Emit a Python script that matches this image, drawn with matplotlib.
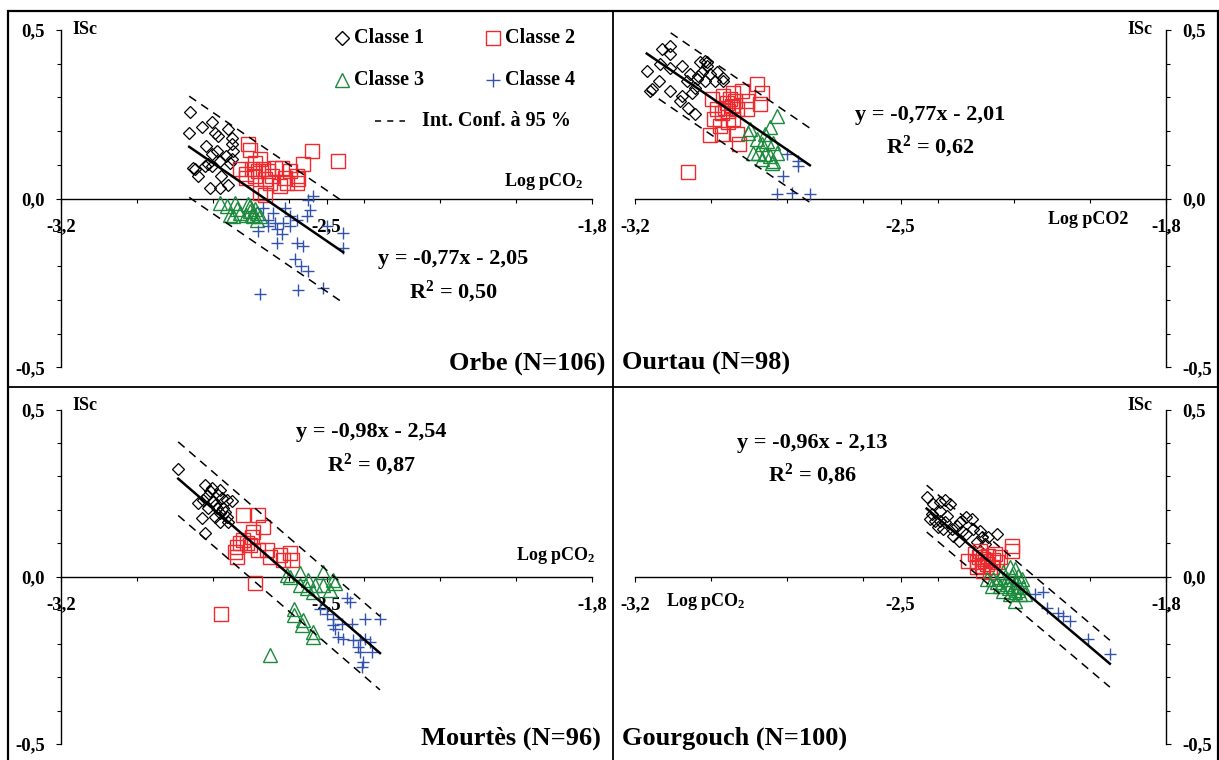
import numpy as np
import matplotlib
matplotlib.use("Agg")
import matplotlib.pyplot as plt
from matplotlib.ticker import FixedLocator, FixedFormatter, NullFormatter

plt.rcParams['font.family'] = ['Liberation Serif', 'DejaVu Serif']
plt.rcParams['font.weight'] = 'bold'
plt.rcParams['mathtext.fontset'] = 'custom'
plt.rcParams['mathtext.rm'] = 'Liberation Serif:bold'
plt.rcParams['mathtext.it'] = 'Liberation Serif:bold'
plt.rcParams['mathtext.bf'] = 'Liberation Serif:bold'

# ---------------- data ----------------
panel_titles = ["Orbe (N=106)", "Ourtau (N=98)", "Mourtès (N=96)", "Gourgouch (N=100)"]
equations = ["y = -0,77x - 2,05", "y = -0,77x - 2,01", "y = -0,98x - 2,54", "y = -0,96x - 2,13"]
r2_values = ["0,50", "0,62", "0,87", "0,86"]
slopes = [-0.77, -0.77, -0.98, -0.96]
intercepts = [-2.05, -2.01, -2.54, -2.13]
ci_half_width = [0.15, 0.11, 0.11, 0.07]
x_axis_labels = ["Log pCO$_2$", "Log pCO2", "Log pCO$_2$", "Log pCO$_2$"]
y_axis_label = "ISc"

class_labels = ["Classe 1", "Classe 2", "Classe 3", "Classe 4"]
ci_label = "Int. Conf. à 95 %"

xtick_pos = [-3.2, -2.5, -1.8]
xtick_labels = ["-3,2", "-2,5", "-1,8"]
xtick_minor = [-3.0, -2.8, -2.6, -2.4, -2.2, -2.0]
ytick_pos = [-0.5, 0.0, 0.5]
ytick_labels = ["-0,5", "0,0", "0,5"]
ytick_minor = [-0.4, -0.3, -0.2, -0.1, 0.1, 0.2, 0.3, 0.4]

# Orbe
orbe_c1_x = [-2.860, -2.862, -2.829, -2.803, -2.794, -2.785, -2.759, -2.750, -2.750, -2.790, -2.803, -2.812, -2.820,
             -2.803, -2.781, -2.777, -2.750, -2.851, -2.838, -2.807, -2.781, -2.759, -2.746, -2.847, -2.755, -2.817, -2.765]
orbe_c1_y = [0.258, 0.196, 0.211, 0.226, 0.196, 0.186, 0.206, 0.181, 0.161, 0.142, 0.132, 0.102, 0.097,
             0.097, 0.112, 0.067, 0.117, 0.092, 0.067, 0.033, 0.033, 0.040, 0.142, 0.087, 0.107, 0.156, 0.125]
orbe_c2_x = [-2.706, -2.702, -2.728, -2.711, -2.697, -2.689, -2.667, -2.653, -2.645, -2.662, -2.636, -2.618, -2.609,
             -2.605, -2.579, -2.574, -2.561, -2.539, -2.469, -2.675, -2.662, -2.711, -2.649, -2.623, -2.680, -2.579,
             -2.675, -2.596, -2.689]
orbe_c2_y = [0.161, 0.144, 0.087, 0.072, 0.087, 0.067, 0.087, 0.082, 0.067, 0.057, 0.092, 0.092, 0.062,
             0.047, 0.067, 0.057, 0.102, 0.142, 0.112, 0.017, 0.012, 0.062, 0.047, 0.037, 0.082, 0.047,
             0.117, 0.082, 0.107]
orbe_c3_x = [-2.781, -2.763, -2.741, -2.754, -2.737, -2.706, -2.702, -2.697, -2.693, -2.684, -2.684, -2.711, -2.675,
             -2.702, -2.728, -2.746, -2.689]
orbe_c3_y = [-0.012, -0.022, -0.012, -0.047, -0.032, -0.017, -0.037, -0.047, -0.052, -0.042, -0.062, -0.047, -0.052,
             -0.022, -0.042, -0.052, -0.030]
orbe_c4_x = [-2.667, -2.640, -2.609, -2.596, -2.579, -2.548, -2.535, -2.544, -2.636, -2.653, -2.631, -2.618, -2.631,
             -2.680, -2.579, -2.561, -2.596, -2.583, -2.566, -2.548, -2.574, -2.508, -2.675, -2.456, -2.456, -2.653,
             -2.552, -2.614, -2.500]
orbe_c4_y = [-0.027, -0.042, -0.027, -0.052, -0.062, -0.003, 0.007, -0.033, -0.072, -0.081, -0.091, -0.106, -0.131,
             -0.096, -0.131, -0.141, -0.081, -0.180, -0.200, -0.215, -0.270, -0.264, -0.284, -0.101, -0.146, -0.062,
             -0.052, -0.072, -0.081]

# Ourtau
ourtau_c1_x = [-3.169, -3.130, -3.108, -3.108, -3.134, -3.108, -3.077, -3.055, -3.138, -3.156, -3.108, -3.077, -3.081,
               -3.059, -3.042, -3.029, -3.015, -3.011, -3.024, -3.002, -2.985, -2.967, -2.967, -3.037, -3.015, -3.042,
               -3.051, -3.064, -3.011, -2.989, -3.033, -3.160]
ourtau_c1_y = [0.379, 0.443, 0.453, 0.428, 0.399, 0.386, 0.394, 0.369, 0.349, 0.324, 0.319, 0.305, 0.290,
               0.270, 0.250, 0.404, 0.408, 0.394, 0.374, 0.369, 0.374, 0.359, 0.349, 0.354, 0.349, 0.329,
               0.314, 0.349, 0.404, 0.349, 0.364, 0.319]
ourtau_c2_x = [-2.998, -2.985, -2.993, -3.002, -2.971, -2.967, -2.958, -2.949, -2.945, -2.932, -2.936, -2.941, -2.919,
               -2.906, -2.879, -2.866, -2.870, -2.954, -2.941, -2.971, -2.932, -2.927, -3.059, -2.954, -2.963, -2.906,
               -2.976]
ourtau_c2_y = [0.295, 0.265, 0.235, 0.188, 0.191, 0.305, 0.285, 0.295, 0.275, 0.265, 0.290, 0.314, 0.319,
               0.265, 0.339, 0.314, 0.280, 0.226, 0.235, 0.255, 0.191, 0.161, 0.080, 0.260, 0.270, 0.290,
               0.216]
ourtau_c3_x = [-2.826, -2.844, -2.857, -2.897, -2.901, -2.879, -2.866, -2.853, -2.835, -2.888, -2.875, -2.857, -2.844,
               -2.826, -2.835, -2.839, -2.866]
ourtau_c3_y = [0.245, 0.211, 0.191, 0.206, 0.196, 0.176, 0.161, 0.171, 0.166, 0.136, 0.136, 0.131, 0.127,
               0.136, 0.112, 0.107, 0.117]
ourtau_c4_x = [-2.800, -2.769, -2.769, -2.809, -2.826, -2.787, -2.739]
ourtau_c4_y = [0.131, 0.112, 0.097, 0.067, 0.013, 0.018, 0.013]

# Mourtes
mourtes_c1_x = [-2.891, -2.820, -2.803, -2.781, -2.785, -2.816, -2.838, -2.825, -2.798, -2.776, -2.763, -2.750, -2.790,
                -2.772, -2.781, -2.763, -2.794, -2.781, -2.759, -2.829, -2.820, -2.807, -2.794, -2.768, -2.812]
mourtes_c1_y = [0.322, 0.275, 0.265, 0.260, 0.245, 0.240, 0.220, 0.230, 0.225, 0.235, 0.230, 0.225, 0.205,
                0.205, 0.190, 0.180, 0.180, 0.165, 0.165, 0.175, 0.130, 0.255, 0.215, 0.195, 0.205]
mourtes_c2_x = [-2.719, -2.680, -2.667, -2.693, -2.697, -2.728, -2.737, -2.710, -2.719, -2.741, -2.737, -2.702, -2.680,
                -2.658, -2.649, -2.623, -2.614, -2.596, -2.592, -2.688, -2.779]
mourtes_c2_y = [0.185, 0.185, 0.150, 0.135, 0.120, 0.100, 0.090, 0.100, 0.110, 0.075, 0.060, 0.095, 0.080,
                0.080, 0.060, 0.065, 0.050, 0.070, 0.050, -0.020, -0.110]
mourtes_c3_x = [-2.596, -2.570, -2.548, -2.570, -2.552, -2.535, -2.508, -2.482, -2.478, -2.491, -2.508, -2.530, -2.587,
                -2.587, -2.561, -2.565, -2.535, -2.535, -2.649, -2.605]
mourtes_c3_y = [0.000, 0.010, -0.010, -0.025, -0.035, -0.045, 0.015, -0.010, -0.020, -0.040, -0.025, -0.025, -0.095,
                -0.115, -0.130, -0.145, -0.165, -0.180, -0.234, 0.005]
mourtes_c4_x = [-2.517, -2.500, -2.482, -2.482, -2.447, -2.438, -2.460, -2.434, -2.398, -2.359, -2.469, -2.456, -2.429,
                -2.412, -2.398, -2.385, -2.416, -2.412, -2.381, -2.403, -2.407, -2.478]
mourtes_c4_y = [-0.095, -0.110, -0.125, -0.145, -0.065, -0.075, -0.140, -0.140, -0.125, -0.125, -0.180, -0.185, -0.190,
                -0.190, -0.185, -0.195, -0.210, -0.224, -0.224, -0.254, -0.269, -0.155]

# Gourgouch
gourg_c1_x = [-2.431, -2.413, -2.396, -2.383, -2.369, -2.396, -2.418, -2.422, -2.409, -2.396, -2.383, -2.400, -2.387,
              -2.365, -2.352, -2.343, -2.326, -2.312, -2.339, -2.326, -2.308, -2.290, -2.286, -2.268, -2.246, -2.299,
              -2.277, -2.347, -2.361, -2.378]
gourg_c1_y = [0.238, 0.218, 0.223, 0.228, 0.218, 0.198, 0.188, 0.173, 0.168, 0.168, 0.163, 0.148, 0.143,
              0.143, 0.153, 0.163, 0.178, 0.173, 0.138, 0.128, 0.143, 0.138, 0.118, 0.118, 0.128, 0.103,
              0.098, 0.108, 0.123, 0.183]
gourg_c2_x = [-2.321, -2.304, -2.299, -2.290, -2.286, -2.282, -2.273, -2.268, -2.260, -2.251, -2.246, -2.238, -2.207,
              -2.207, -2.282, -2.264, -2.299, -2.292, -2.277, -2.255]
gourg_c2_y = [0.048, 0.068, 0.043, 0.078, 0.033, 0.053, 0.038, 0.063, 0.028, 0.068, 0.043, 0.058, 0.093,
              0.078, 0.018, 0.013, 0.028, 0.058, 0.048, 0.050]
gourg_c3_x = [-2.273, -2.260, -2.246, -2.238, -2.229, -2.220, -2.211, -2.198, -2.189, -2.180, -2.176, -2.202, -2.229,
              -2.211, -2.198, -2.185, -2.172, -2.198, -2.220, -2.194, -2.238, -2.255, -2.207, -2.215, -2.190]
gourg_c3_y = [-0.007, -0.027, -0.017, -0.002, 0.013, -0.007, 0.028, 0.023, 0.003, -0.007, -0.032, -0.027, -0.042,
              -0.052, -0.047, -0.052, -0.052, -0.072, -0.022, -0.017, -0.027, -0.007, 0.003, -0.035, -0.040]
gourg_c4_x = [-2.145, -2.123, -2.115, -2.084, -2.071, -2.053, -2.005, -1.948]
gourg_c4_y = [-0.052, -0.047, -0.092, -0.107, -0.117, -0.132, -0.187, -0.232]

panels_data = [
    [(orbe_c1_x, orbe_c1_y), (orbe_c2_x, orbe_c2_y), (orbe_c3_x, orbe_c3_y), (orbe_c4_x, orbe_c4_y)],
    [(ourtau_c1_x, ourtau_c1_y), (ourtau_c2_x, ourtau_c2_y), (ourtau_c3_x, ourtau_c3_y), (ourtau_c4_x, ourtau_c4_y)],
    [(mourtes_c1_x, mourtes_c1_y), (mourtes_c2_x, mourtes_c2_y), (mourtes_c3_x, mourtes_c3_y), (mourtes_c4_x, mourtes_c4_y)],
    [(gourg_c1_x, gourg_c1_y), (gourg_c2_x, gourg_c2_y), (gourg_c3_x, gourg_c3_y), (gourg_c4_x, gourg_c4_y)],
]

# ---------------- style ----------------
W, H = 1219, 760
class_markers = ['D', 's', '^', '+']
class_colors = ['black', '#ee2a2e', '#1c8a3c', '#3252ac']
class_sizes = [6.2, 9.5, 9.5, 9.0]
class_mew = [0.9, 1.0, 1.0, 1.0]

fig = plt.figure(figsize=(W / 100, H / 100), dpi=100)

ov = fig.add_axes([0, 0, 1, 1])
ov.set_xlim(0, W)
ov.set_ylim(H, 0)
ov.axis('off')
ov.patch.set_visible(False)


def rect(xl, xr, yt, yb):
    return [xl / W, 1 - yb / H, (xr - xl) / W, (yb - yt) / H]


panel_rects = [rect(61, 592, 30, 367.3), rect(635, 1166, 30, 367.3),
               rect(61, 592, 409.5, 744), rect(635, 1166, 409.5, 744)]
right_axis = [False, True, False, True]

for i in range(4):
    ax = fig.add_axes(panel_rects[i])
    ax.patch.set_visible(False)
    ax.set_xlim(-3.2, -1.8)
    ax.set_ylim(-0.5, 0.5)
    ax.spines['top'].set_visible(False)
    ax.spines['bottom'].set_position(('data', 0))
    if right_axis[i]:
        ax.spines['left'].set_visible(False)
        ax.yaxis.set_ticks_position('right')
    else:
        ax.spines['right'].set_visible(False)
        ax.yaxis.set_ticks_position('left')
    for s in ax.spines.values():
        s.set_linewidth(1.0)
    ax.xaxis.set_major_locator(FixedLocator(xtick_pos))
    ax.xaxis.set_major_formatter(FixedFormatter(xtick_labels))
    ax.xaxis.set_minor_locator(FixedLocator(xtick_minor))
    ax.xaxis.set_minor_formatter(NullFormatter())
    ax.yaxis.set_major_locator(FixedLocator(ytick_pos))
    ax.yaxis.set_major_formatter(FixedFormatter(ytick_labels))
    ax.yaxis.set_minor_locator(FixedLocator(ytick_minor))
    ax.yaxis.set_minor_formatter(NullFormatter())
    ax.tick_params(which='major', direction='out', length=3.5, width=0.8, labelsize=13.5)
    ax.tick_params(which='minor', direction='out', length=3, width=0.8)
    ax.tick_params(axis='x', which='major', pad=10.5)
    ax.tick_params(axis='y', which='major', pad=8)
    for lab in ax.get_xticklabels() + ax.get_yticklabels():
        lab.set_fontweight('bold')

    allx = []
    for k, (xs, ys) in enumerate(panels_data[i]):
        allx += list(xs)
        if class_markers[k] == '+':
            ax.plot(xs, ys, linestyle='none', marker='+', markersize=class_sizes[k],
                    markeredgecolor=class_colors[k], markeredgewidth=class_mew[k], zorder=3)
        else:
            ax.plot(xs, ys, linestyle='none', marker=class_markers[k], markersize=class_sizes[k],
                    markerfacecolor='none', markeredgecolor=class_colors[k],
                    markeredgewidth=class_mew[k], zorder=3)
    xl = np.array([min(allx), max(allx)])
    yl = slopes[i] * xl + intercepts[i]
    ax.plot(xl, yl, color='black', lw=1.8, zorder=4)
    ax.plot(xl, yl + ci_half_width[i], color='black', lw=1.1, linestyle=(0, (5.5, 4)), zorder=4)
    ax.plot(xl, yl - ci_half_width[i], color='black', lw=1.1, linestyle=(0, (5.5, 4)), zorder=4)

# ---------------- annotations (pixel coords) ----------------
txt = dict(fontweight='bold', color='black', va='center')
# ISc labels
ov.text(72, 30, y_axis_label, fontsize=13, ha='left', **txt)
ov.text(1152, 30, y_axis_label, fontsize=13, ha='right', **txt)
ov.text(72, 406, y_axis_label, fontsize=13, ha='left', **txt)
ov.text(1152, 406, y_axis_label, fontsize=13, ha='right', **txt)
# Log pCO2 labels
ov.text(583, 181, x_axis_labels[0], fontsize=13, ha='right', **txt)
ov.text(1128, 220, x_axis_labels[1], fontsize=13, ha='right', **txt)
ov.text(595, 555, x_axis_labels[2], fontsize=13, ha='right', **txt)
ov.text(666, 602, x_axis_labels[3], fontsize=13, ha='left', **txt)
# Equations
eq_pos = [(453, 259, 292), (930, 115, 147), (371, 432, 465), (812, 443, 475)]
for i, (ex, ey1, ey2) in enumerate(eq_pos):
    ov.text(ex, ey1, equations[i], fontsize=16, ha='center', **txt)
    ov.text(ex, ey2, "R$^2$ = " + r2_values[i], fontsize=16, ha='center', **txt)
# Titles
ov.text(605, 363, panel_titles[0], fontsize=19, ha='right', **txt)
ov.text(622, 363, panel_titles[1], fontsize=19, ha='left', **txt)
ov.text(601, 738, panel_titles[2], fontsize=19, ha='right', **txt)
ov.text(622, 738, panel_titles[3], fontsize=19, ha='left', **txt)

# Legend (top-left panel)
leg_slots = [(342, 38), (493, 38), (342, 80), (493, 80)]
leg_sizes = [7, 10, 10, 10]
for k in range(4):
    lx, ly = leg_slots[k]
    if class_markers[k] == '+':
        ov.plot([lx], [ly], marker='+', markersize=leg_sizes[k], markeredgecolor=class_colors[k],
                markeredgewidth=1.0, linestyle='none')
    else:
        ov.plot([lx], [ly], marker=class_markers[k], markersize=leg_sizes[k], markerfacecolor='none',
                markeredgecolor=class_colors[k], markeredgewidth=1.0, linestyle='none')
    ov.text(lx + 12, ly, class_labels[k], fontsize=14.5, ha='left', **txt)
ov.plot([375, 405], [121, 121], color='black', lw=1.1, linestyle=(0, (4, 4)))
ov.text(422, 121, ci_label, fontsize=14.5, ha='left', **txt)

# Frame lines
frame_kw = dict(color='black', solid_capstyle='butt', clip_on=False)
ov.plot([8, 8], [10, 760], lw=1.6, **frame_kw)
ov.plot([1218, 1218], [10, 760], lw=1.6, **frame_kw)
ov.plot([7, 1219], [11, 11], lw=1.6, **frame_kw)
ov.plot([613, 613], [11, 760], lw=1.3, **frame_kw)
ov.plot([8, 1218], [387, 387], lw=1.3, **frame_kw)

fig.savefig("out.png", dpi=100)
